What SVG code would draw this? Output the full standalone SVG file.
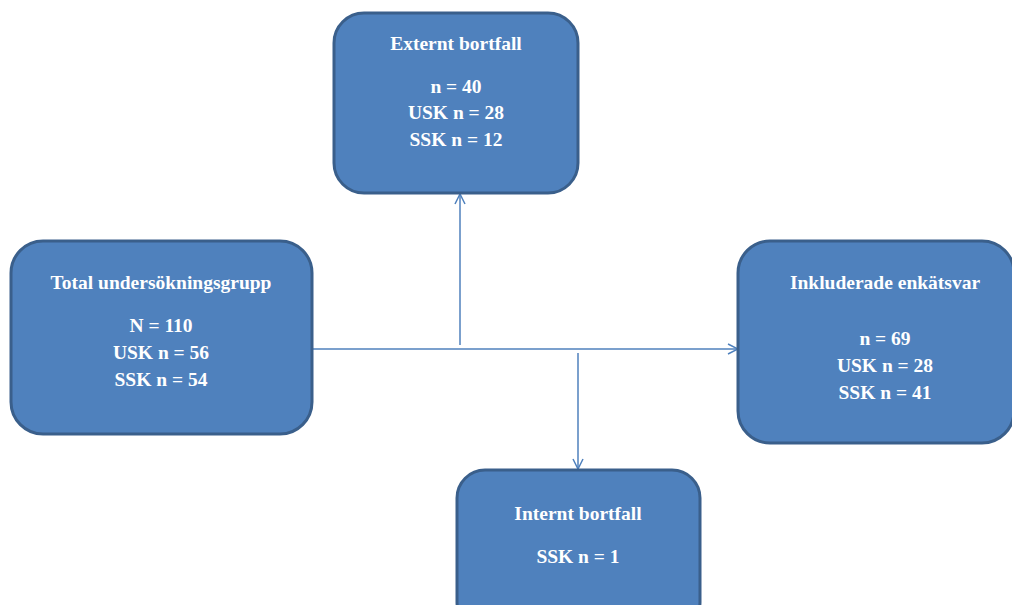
<svg xmlns="http://www.w3.org/2000/svg" width="1012" height="605" viewBox="0 0 1012 605">
<defs>
<style>
.box{fill:#4F81BD;stroke:#3A5F8B;stroke-width:3}
.t{font-family:"Liberation Serif","Times New Roman",serif;font-weight:bold;font-size:19.5px;fill:#fff;text-anchor:middle}
.c{stroke:#4F81BD;stroke-width:1.5;fill:none}
</style>
<marker id="arr" viewBox="0 0 12 12" refX="11" refY="6" markerWidth="12" markerHeight="12" markerUnits="userSpaceOnUse" orient="auto">
<path d="M1,1 L11,6 L1,11" fill="none" stroke="#4F81BD" stroke-width="1.5"/>
</marker>
</defs>
<rect width="1012" height="605" fill="#fff"/>
<g id="connectors">
<line class="c" x1="313" y1="349" x2="738" y2="349" marker-end="url(#arr)"/>
<line class="c" x1="460" y1="345" x2="460" y2="194" marker-end="url(#arr)"/>
<line class="c" x1="578" y1="353" x2="578" y2="469" marker-end="url(#arr)"/>
</g>
<g id="externt">
<rect class="box" x="334" y="13" width="244" height="180" rx="30"/>
<text class="t" x="456" y="50">Externt bortfall</text>
<text class="t" x="456" y="93">n = 40</text>
<text class="t" x="456" y="119">USK n = 28</text>
<text class="t" x="456" y="146">SSK n = 12</text>
</g>
<g id="total">
<rect class="box" x="11" y="241" width="301" height="193" rx="32"/>
<text class="t" x="161" y="289">Total undersökningsgrupp</text>
<text class="t" x="161" y="332">N = 110</text>
<text class="t" x="161" y="359">USK n = 56</text>
<text class="t" x="161" y="386">SSK n = 54</text>
</g>
<g id="inkluderade">
<rect class="box" x="738" y="241" width="276" height="202" rx="32"/>
<text class="t" x="885" y="289">Inkluderade enkätsvar</text>
<text class="t" x="885" y="345">n = 69</text>
<text class="t" x="885" y="372">USK n = 28</text>
<text class="t" x="885" y="399">SSK n = 41</text>
</g>
<g id="internt">
<rect class="box" x="457" y="470" width="243" height="160" rx="28"/>
<text class="t" x="578" y="520">Internt bortfall</text>
<text class="t" x="578" y="563">SSK n = 1</text>
</g>
</svg>
